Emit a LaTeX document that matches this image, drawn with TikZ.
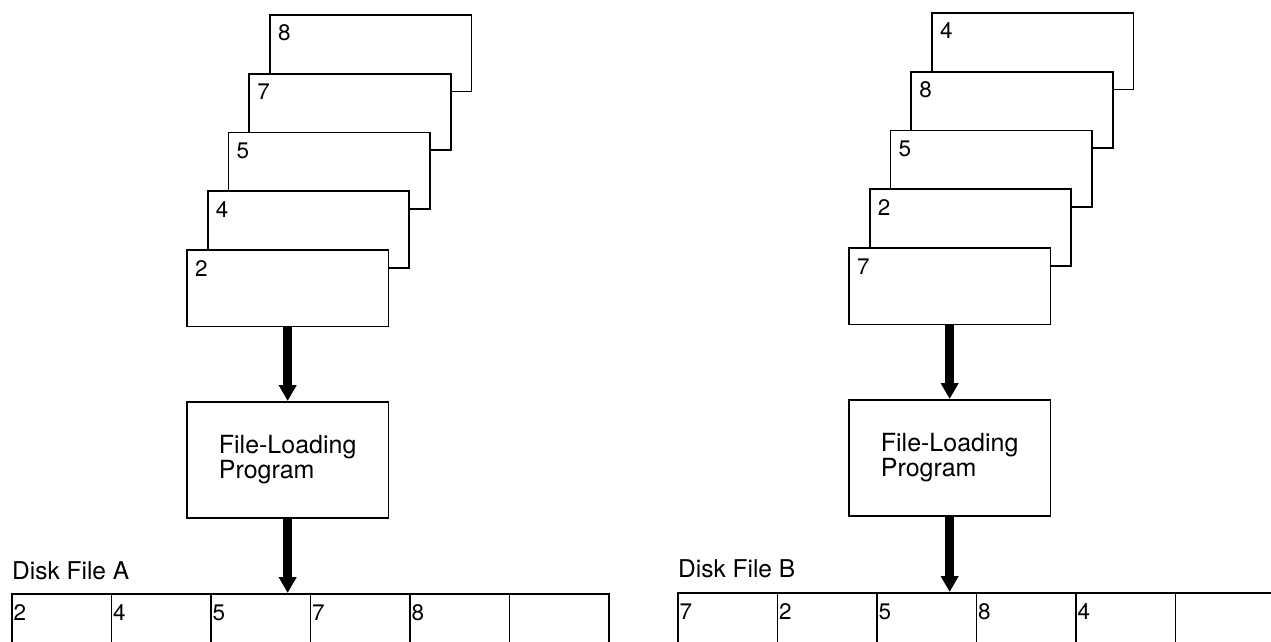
\documentclass[tikz,border=0pt]{standalone}
\usepackage{fontspec}
\setmainfont{TeX Gyre Heros}
\usetikzlibrary{arrows.meta, positioning, calc}

\begin{document}
\begin{tikzpicture}[
    x=1pt, y=-1pt,
    card/.style  ={draw=black, line width=1.8pt, fill=white, anchor=north west,
                   minimum width=201.5pt, minimum height=76.5pt, inner sep=0pt},
    tag/.style   ={anchor=base west, inner sep=0pt,
                   font=\fontsize{22.5}{22.5}\selectfont},
    prog/.style  ={draw=black, line width=1.8pt, fill=white, anchor=north west,
                   minimum width=201.5pt, minimum height=116pt, align=left,
                   font=\fontsize{25}{23.5}\selectfont},
    cell/.style  ={draw=black, line width=1.8pt, anchor=north west,
                   minimum width=99.5pt, minimum height=90pt, inner sep=0pt},
    disklbl/.style={anchor=base west, inner sep=0pt,
                   font=\fontsize{24.5}{24.5}\selectfont},
    feed/.style  ={-{Triangle[length=16pt, width=17pt]}, line width=9pt},
  ]
  \useasboundingbox (0,0) rectangle (1271,642);
  \clip (0,0) rectangle (1271,642);

  % ---- card deck A (drawn back to front) ----
  \foreach \n/\k in {8/4, 7/3, 5/2, 4/1, 2/0} {
    \node[card] (cA\k) at (186+20.75*\k, 249-58.75*\k) {};
    \node[tag] (tA\k) at ($(cA\k.north west)+(9,27)$) {\n};
  }

  % ---- card deck B ----
  \foreach \n/\k in {4/4, 8/3, 5/2, 2/1, 7/0} {
    \node[card] (cB\k) at (848+20.75*\k, 247-58.75*\k) {};
    \node[tag] (tB\k) at ($(cB\k.north west)+(9,27)$) {\n};
  }

  % ---- loading programs ----
  \node[prog] (progA) at (186,401) {File-Loading\\Program};
  \node[prog] (progB) at (848,399) {File-Loading\\Program};

  % ---- disk files ----
  \node[disklbl] (lblA) at (12,579) {Disk File A};
  \node[disklbl] (lblB) at (678,577) {Disk File B};
  \foreach \i in {0,...,5} {
    \node[cell] (dA\i) at (11+99.5*\i, 593) {};
    \node[cell] (dB\i) at (677+99.5*\i, 592) {};
  }
  \foreach \n [count=\i from 0] in {2,4,5,7,8}
    \node[tag] (vA\i) at ($(dA\i.north west)+(2.5,27)$) {\n};
  \foreach \n [count=\i from 0] in {7,2,5,8,4}
    \node[tag] (vB\i) at ($(dB\i.north west)+(2.5,27)$) {\n};

  % ---- flow arrows ----
  \coordinate (inA) at (progA.south |- dA0.north);
  \coordinate (inB) at (progB.south |- dB0.north);
  \draw[feed] (cA0.south) -- (progA.north);
  \draw[feed] (progA.south) -- (inA);
  \draw[feed] (cB0.south) -- (progB.north);
  \draw[feed] (progB.south) -- (inB);

\end{tikzpicture}
\end{document}
